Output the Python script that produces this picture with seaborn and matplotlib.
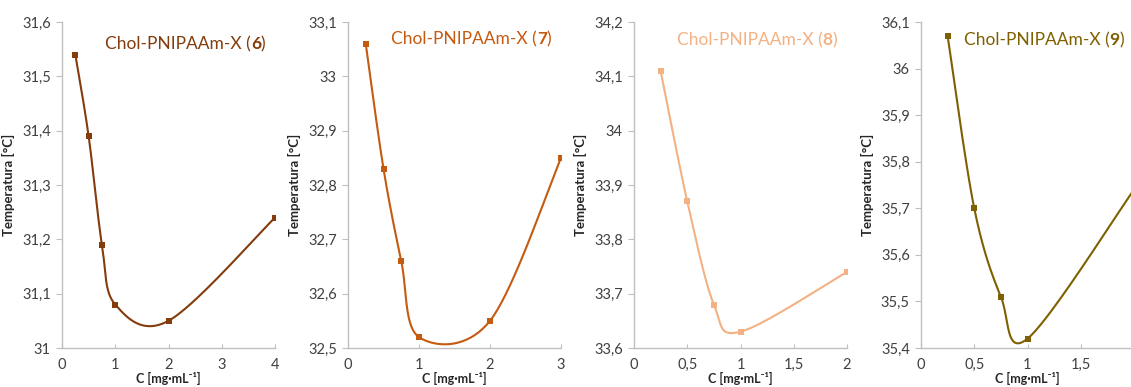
import numpy as np
import matplotlib
matplotlib.use("Agg")
import matplotlib.pyplot as plt
import seaborn as sns
import pandas as pd
from matplotlib.ticker import FuncFormatter, FixedLocator, MultipleLocator

sns.set_style("white")
plt.rcParams['font.family'] = ['Lato', 'DejaVu Sans']

# ---- data ----
titles = ["Chol-PNIPAAm-X (", "Chol-PNIPAAm-X (", "Chol-PNIPAAm-X (", "Chol-PNIPAAm-X ("]
title_nums = ["6", "7", "8", "9"]
conc_6 = [0.25, 0.5, 0.75, 1, 2, 4]
temp_6 = [31.54, 31.39, 31.19, 31.08, 31.05, 31.24]
conc_7 = [0.25, 0.5, 0.75, 1, 2, 3]
temp_7 = [33.06, 32.83, 32.66, 32.52, 32.55, 32.85]
conc_8 = [0.25, 0.5, 0.75, 1, 2]
temp_8 = [34.11, 33.87, 33.68, 33.63, 33.74]
conc_9 = [0.25, 0.5, 0.75, 1, 2]
temp_9 = [36.07, 35.70, 35.51, 35.42, 35.74]
colors = ["#843C0C", "#C55A11", "#F4B183", "#7F6000"]
xlims = [(0, 4), (0, 3), (0, 2), (0, 2)]
xticks = [[0, 1, 2, 3, 4], [0, 1, 2, 3], [0, 0.5, 1, 1.5, 2], [0, 0.5, 1, 1.5]]
ylims = [(31.0, 31.6), (32.5, 33.1), (33.6, 34.2), (35.4, 36.1)]
ylabel = "Temperatura [°C]"
xlabel = "C [mg·mL⁻¹]"

series = [(conc_6, temp_6), (conc_7, temp_7), (conc_8, temp_8), (conc_9, temp_9)]

W, H = 1131, 387
fig = plt.figure(figsize=(W / 100, H / 100), dpi=100)
lefts = [62, 348, 634, 921]
ax_w, top, bottom = 213, 22, 348
title_pos = [(105, 44), (391, 39), (677, 40), (964, 40)]


def fmt(v, pos):
    s = f"{round(v, 2):g}"
    return s.replace('.', ',')


def excel_smooth(x, y, sx, sy, n=40):
    # Catmull-Rom style smoothing in screen space (as Excel smoothed lines)
    P = np.column_stack([np.asarray(x, float) * sx, np.asarray(y, float) * sy])
    pts = [P[0]] + list(P) + [P[-1]]
    out = []
    for i in range(1, len(pts) - 2):
        p0, p1, p2, p3 = pts[i - 1], pts[i], pts[i + 1], pts[i + 2]
        c1 = p1 + (p2 - p0) / 6.0
        c2 = p2 - (p3 - p1) / 6.0
        t = np.linspace(0, 1, n)[:, None]
        seg = ((1 - t) ** 3) * p1 + 3 * ((1 - t) ** 2) * t * c1 + 3 * (1 - t) * t ** 2 * c2 + t ** 3 * p2
        out.append(seg if i == 1 else seg[1:])
    out = np.vstack(out)
    return out[:, 0] / sx, out[:, 1] / sy


for k, (xs, ys) in enumerate(series):
    ax = fig.add_axes([lefts[k] / W, (H - bottom) / H, ax_w / W, (bottom - top) / H])
    xl, yl = xlims[k], ylims[k]
    sx = ax_w / (xl[1] - xl[0])
    sy = (bottom - top) / (yl[1] - yl[0])
    cx, cy = excel_smooth(xs, ys, sx, sy)
    sns.lineplot(x=cx, y=cy, ax=ax, color=colors[k], lw=1.5, sort=False, estimator=None)
    sns.scatterplot(x=xs, y=ys, ax=ax, color=colors[k], marker='s', s=22, edgecolor=colors[k],
                    linewidth=0, zorder=3)
    ax.set_xlim(*xl)
    ax.set_ylim(*yl)
    ax.xaxis.set_major_locator(FixedLocator(xticks[k]))
    ax.yaxis.set_major_locator(MultipleLocator(0.1))
    ax.xaxis.set_major_formatter(FuncFormatter(fmt))
    ax.yaxis.set_major_formatter(FuncFormatter(fmt))
    for s in ['top', 'right']:
        ax.spines[s].set_visible(False)
    for s in ['left', 'bottom']:
        ax.spines[s].set_color('#BFBFBF')
        ax.spines[s].set_linewidth(1.0)
    ax.tick_params(axis='x', direction='in', length=3, color='#BFBFBF', labelsize=10.5,
                   labelcolor='#404040', pad=7, bottom=True)
    ax.tick_params(axis='y', direction='out', length=4, color='#BFBFBF', labelsize=10.5,
                   labelcolor='#404040', pad=4, left=True)
    ax.set_ylabel(ylabel, fontsize=9.5, fontweight='bold', color='#262626', labelpad=5)
    ax.set_xlabel(xlabel, fontsize=9, fontweight='bold', color='#262626', labelpad=0)
    tx, ty = title_pos[k]
    t1 = fig.text(tx / W, 1 - ty / H, titles[k], color=colors[k], fontsize=12.5, va='center', ha='left')
    fig.canvas.draw()
    bb = t1.get_window_extent()
    t2 = fig.text(bb.x1 / W, 1 - ty / H, title_nums[k], color=colors[k], fontsize=12.5,
                  fontweight='bold', va='center', ha='left')
    bb2 = t2.get_window_extent()
    fig.text(bb2.x1 / W, 1 - ty / H, ")", color=colors[k], fontsize=12.5, va='center', ha='left')

fig.savefig("out.png", dpi=100)
